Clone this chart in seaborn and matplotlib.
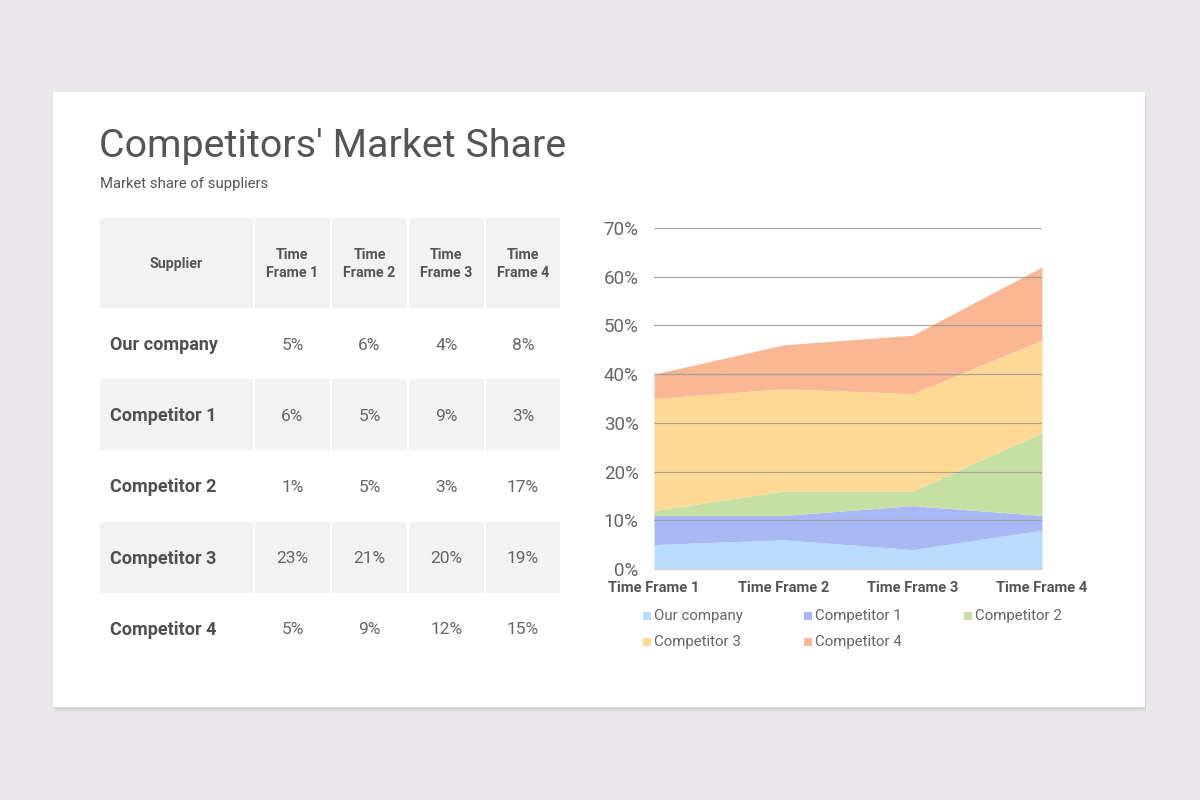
import matplotlib
matplotlib.use("Agg")
import matplotlib.pyplot as plt
from matplotlib.patches import Rectangle
import seaborn as sns
import numpy as np

# ---------------- data ----------------
time_frames = ["Time Frame 1", "Time Frame 2", "Time Frame 3", "Time Frame 4"]
header_labels = ["Supplier", "Time\nFrame 1", "Time\nFrame 2", "Time\nFrame 3", "Time\nFrame 4"]
suppliers = ["Our company", "Competitor 1", "Competitor 2", "Competitor 3", "Competitor 4"]
our_company = [5, 6, 4, 8]
competitor_1 = [6, 5, 9, 3]
competitor_2 = [1, 5, 3, 17]
competitor_3 = [23, 21, 20, 19]
competitor_4 = [5, 9, 12, 15]
y_ticks = [0, 10, 20, 30, 40, 50, 60, 70]

series = [our_company, competitor_1, competitor_2, competitor_3, competitor_4]
colors = ["#b9dbfd", "#a9b8f4", "#c5e0a2", "#fdd995", "#f9b794"]

# ---------------- style ----------------
sns.set_theme(style="white")
plt.rcParams["font.family"] = ["Roboto", "DejaVu Sans"]

W, H = 1200, 800
fig = plt.figure(figsize=(12, 8), dpi=100)
fig.patch.set_facecolor("#e9e7e9")

def fx(px):
    return px / W

def fy(py):
    return 1 - py / H

# card with soft shadow
for off, alpha in [(4, 0.04), (2, 0.05)]:
    fig.patches.append(Rectangle((fx(53 + off * 0.3), fy(707 + off)), fx(1145 - 53), (707 - 92) / H,
                                 transform=fig.transFigure, facecolor="black", alpha=alpha,
                                 edgecolor="none", zorder=-3))
fig.patches.append(Rectangle((fx(53), fy(707)), fx(1145 - 53), (707 - 92) / H,
                             transform=fig.transFigure, facecolor="white", edgecolor="none", zorder=-2))

# title and subtitle
fig.text(fx(99), fy(157), "Competitors' Market Share", fontsize=28.4, color="#555555",
         ha="left", va="baseline")
fig.text(fx(100), fy(188), "Market share of suppliers", fontsize=10.7, color="#555555",
         ha="left", va="baseline")

# ---------------- table ----------------
tax = fig.add_axes([fx(100), fy(664), (562 - 100) / W, (664 - 218) / H])
tax.set_xlim(0, 462)
tax.set_ylim(446, 0)
tax.axis("off")
col_widths = [155, 77, 77, 77, 76]
col_edges = np.concatenate([[0], np.cumsum(col_widths)])
header_h = 90
row_h = (446 - header_h) / len(suppliers)
gray = "#f2f2f2"

# header
for j, lab in enumerate(header_labels):
    x0, x1 = col_edges[j], col_edges[j + 1] - 2
    tax.add_patch(Rectangle((x0, 0), x1 - x0, header_h, facecolor=gray, edgecolor="none"))
    tax.text((x0 + x1) / 2, header_h / 2 + 1, lab, ha="center", va="center", fontsize=10.3,
             fontweight="bold", color="#555555", linespacing=1.38)

# body
for i, name in enumerate(suppliers):
    y0 = header_h + i * row_h
    yc = y0 + row_h / 2 + 1.5
    if i % 2 == 1:
        for j in range(len(col_widths)):
            x0, x1 = col_edges[j], col_edges[j + 1] - 2
            tax.add_patch(Rectangle((x0, y0), x1 - x0, row_h, facecolor=gray, edgecolor="none"))
    tax.text(10, yc, name, ha="left", va="center", fontsize=13,
             fontweight="bold", color="#505050")
    for k, v in enumerate(series[i]):
        j = k + 1
        xc = (col_edges[j] + col_edges[j + 1] - 2) / 2
        tax.text(xc, yc, f"{v}%", ha="center", va="center", fontsize=12.5,
                 color="#666666")

# ---------------- area chart ----------------
ax = fig.add_axes([fx(654), fy(569), (1042 - 654) / W, (569 - 228) / H])
ax.set_facecolor("white")
x = np.arange(len(time_frames))
ax.stackplot(x, *series, colors=colors, linewidth=0, labels=suppliers, zorder=1)
ax.set_xlim(0, len(time_frames) - 1)
ax.set_ylim(y_ticks[0], y_ticks[-1])
ax.set_yticks(y_ticks)
ax.set_yticklabels([f"{t}%" for t in y_ticks])
ax.set_xticks(x)
ax.set_xticklabels(time_frames)
ax.yaxis.grid(True, color="#9a9a9a", linewidth=0.9, alpha=0.85)
ax.set_axisbelow(False)
ax.get_ygridlines()[0].set_visible(False)
for s in ["top", "right", "left"]:
    ax.spines[s].set_visible(False)
ax.spines["bottom"].set_color("#d6d6d6")
ax.spines["bottom"].set_linewidth(1.0)
ax.tick_params(axis="y", length=0, pad=11, labelsize=13.5, labelcolor="#666666")
ax.tick_params(axis="x", direction="out", length=5, width=1, color="#d6d6d6", pad=4,
               labelsize=10.6, labelcolor="#555555")
for lab in ax.get_xticklabels():
    lab.set_fontweight("bold")

# ---------------- legend ----------------
leg_cols = [643, 804, 964]
leg_rows = [616, 642]
for i, (name, c) in enumerate(zip(suppliers, colors)):
    r, cidx = divmod(i, 3)
    mx, my = leg_cols[cidx], leg_rows[r]
    fig.patches.append(Rectangle((fx(mx), fy(my + 4)), 8 / W, 8 / H, transform=fig.transFigure,
                                 facecolor=c, edgecolor="none", zorder=2))
    fig.text(fx(mx + 11), fy(my), name, fontsize=10.8, color="#666666", ha="left", va="center")

fig.savefig("out.png", dpi=100, facecolor=fig.get_facecolor())
